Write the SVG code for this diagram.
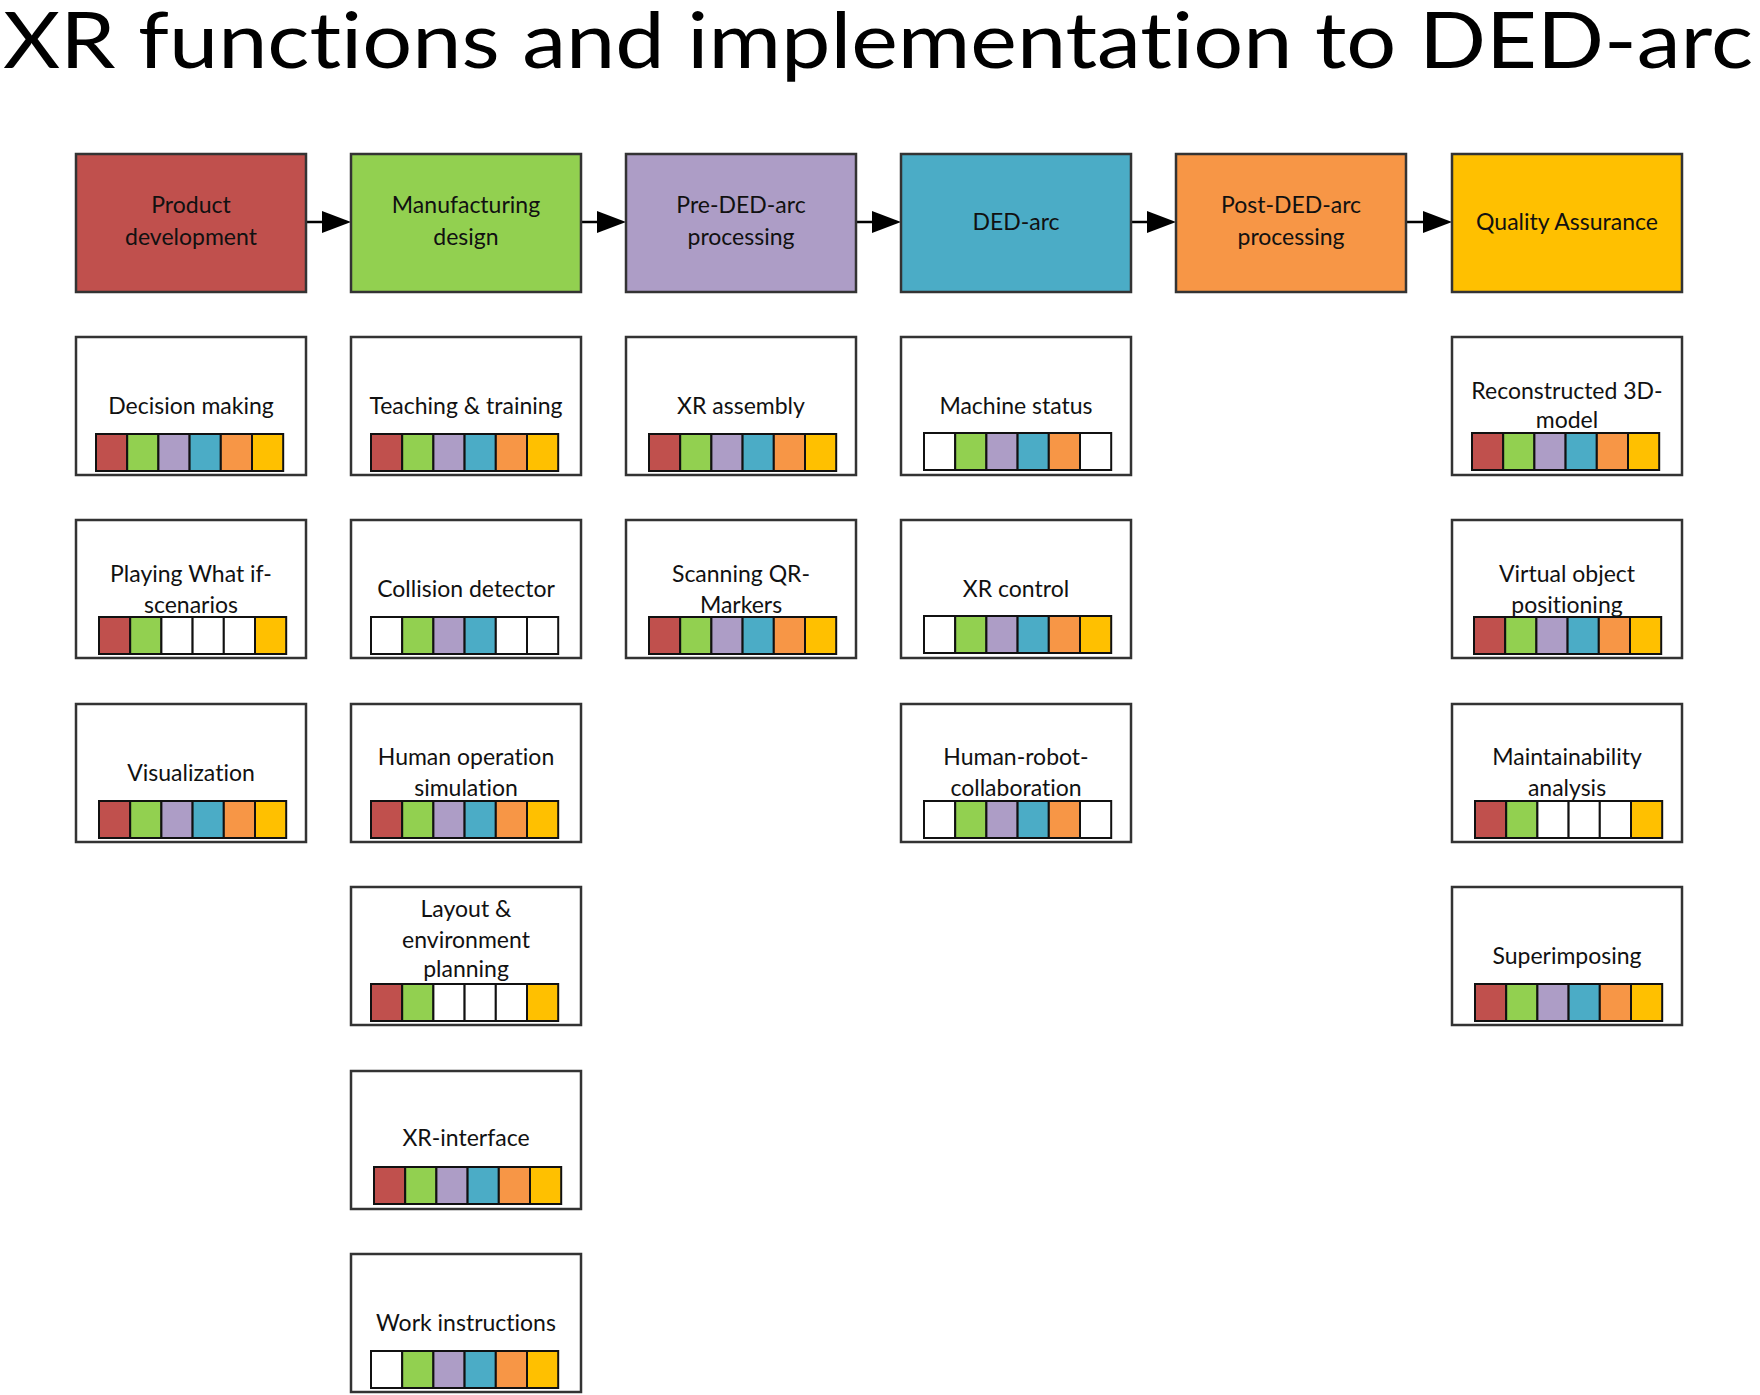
<svg xmlns="http://www.w3.org/2000/svg" width="1760" height="1395" viewBox="0 0 1760 1395">
<style>
.title{font-family:Lato,"Open Sans","Liberation Sans",sans-serif;font-size:78px;fill:#000;font-variant-ligatures:none}
.box{fill:#fff;stroke:#333;stroke-width:2.5}
.hdr{stroke:#333;stroke-width:2.5}
.lbl{font-family:Lato,"Open Sans","Liberation Sans",sans-serif;font-size:23px;fill:#111;text-anchor:middle;font-variant-ligatures:none}
.cell{stroke:#111;stroke-width:2}
.r{fill:#C0504D}.g{fill:#92D050}.p{fill:#AD9DC6}.b{fill:#4BACC6}.o{fill:#F79646}.y{fill:#FFC000}.w{fill:#fff}
.conn{stroke:#000;stroke-width:2.5;fill:none}
</style>
<defs>
<marker id="ah" viewBox="0 0 29 22" refX="0" refY="11" markerWidth="29" markerHeight="22" markerUnits="userSpaceOnUse" orient="auto">
<path d="M0,0 L29,11 L0,22 z" fill="#000"/>
</marker>
</defs>
<rect width="1760" height="1395" fill="#fff"/>
<text class="title" x="3" y="68" textLength="1750" lengthAdjust="spacingAndGlyphs">XR functions and implementation to DED-arc</text>

<g id="connectors">
<line class="conn" x1="306" y1="222" x2="322" y2="222" marker-end="url(#ah)"/>
<line class="conn" x1="581" y1="222" x2="597" y2="222" marker-end="url(#ah)"/>
<line class="conn" x1="856" y1="222" x2="872" y2="222" marker-end="url(#ah)"/>
<line class="conn" x1="1131" y1="222" x2="1147" y2="222" marker-end="url(#ah)"/>
<line class="conn" x1="1406" y1="222" x2="1423" y2="222" marker-end="url(#ah)"/>
</g>

<g id="h-product"><rect class="hdr r" x="76" y="154" width="230" height="138"/><text class="lbl" x="191" y="213">Product</text><text class="lbl" x="191" y="245">development</text></g>
<g id="h-manufacturing"><rect class="hdr g" x="351" y="154" width="230" height="138"/><text class="lbl" x="466" y="213">Manufacturing</text><text class="lbl" x="466" y="245">design</text></g>
<g id="h-pre"><rect class="hdr p" x="626" y="154" width="230" height="138"/><text class="lbl" x="741" y="213">Pre-DED-arc</text><text class="lbl" x="741" y="245">processing</text></g>
<g id="h-ded"><rect class="hdr b" x="901" y="154" width="230" height="138"/><text class="lbl" x="1016" y="230">DED-arc</text></g>
<g id="h-post"><rect class="hdr o" x="1176" y="154" width="230" height="138"/><text class="lbl" x="1291" y="213">Post-DED-arc</text><text class="lbl" x="1291" y="245">processing</text></g>
<g id="h-qa"><rect class="hdr y" x="1452" y="154" width="230" height="138"/><text class="lbl" x="1567" y="230">Quality Assurance</text></g>

<!-- Column 0 -->
<g id="n-decision"><rect class="box" x="76" y="337" width="230" height="138"/><text class="lbl" x="191" y="414">Decision making</text>
<g transform="translate(96,434)"><rect class="cell r" x="0" width="31.2" height="37"/><rect class="cell g" x="31.2" width="31.2" height="37"/><rect class="cell p" x="62.4" width="31.2" height="37"/><rect class="cell b" x="93.6" width="31.2" height="37"/><rect class="cell o" x="124.8" width="31.2" height="37"/><rect class="cell y" x="156" width="31.2" height="37"/></g></g>
<g id="n-whatif"><rect class="box" x="76" y="520" width="230" height="138"/><text class="lbl" x="191" y="582">Playing What if-</text><text class="lbl" x="191" y="613">scenarios</text>
<g transform="translate(99,617)"><rect class="cell r" x="0" width="31.2" height="37"/><rect class="cell g" x="31.2" width="31.2" height="37"/><rect class="cell w" x="62.4" width="31.2" height="37"/><rect class="cell w" x="93.6" width="31.2" height="37"/><rect class="cell w" x="124.8" width="31.2" height="37"/><rect class="cell y" x="156" width="31.2" height="37"/></g></g>
<g id="n-visualization"><rect class="box" x="76" y="704" width="230" height="138"/><text class="lbl" x="191" y="781">Visualization</text>
<g transform="translate(99,801)"><rect class="cell r" x="0" width="31.2" height="37"/><rect class="cell g" x="31.2" width="31.2" height="37"/><rect class="cell p" x="62.4" width="31.2" height="37"/><rect class="cell b" x="93.6" width="31.2" height="37"/><rect class="cell o" x="124.8" width="31.2" height="37"/><rect class="cell y" x="156" width="31.2" height="37"/></g></g>

<!-- Column 1 -->
<g id="n-teaching"><rect class="box" x="351" y="337" width="230" height="138"/><text class="lbl" x="466" y="414">Teaching &amp; training</text>
<g transform="translate(371,434)"><rect class="cell r" x="0" width="31.2" height="37"/><rect class="cell g" x="31.2" width="31.2" height="37"/><rect class="cell p" x="62.4" width="31.2" height="37"/><rect class="cell b" x="93.6" width="31.2" height="37"/><rect class="cell o" x="124.8" width="31.2" height="37"/><rect class="cell y" x="156" width="31.2" height="37"/></g></g>
<g id="n-collision"><rect class="box" x="351" y="520" width="230" height="138"/><text class="lbl" x="466" y="597">Collision detector</text>
<g transform="translate(371,617)"><rect class="cell w" x="0" width="31.2" height="37"/><rect class="cell g" x="31.2" width="31.2" height="37"/><rect class="cell p" x="62.4" width="31.2" height="37"/><rect class="cell b" x="93.6" width="31.2" height="37"/><rect class="cell w" x="124.8" width="31.2" height="37"/><rect class="cell w" x="156" width="31.2" height="37"/></g></g>
<g id="n-human-op"><rect class="box" x="351" y="704" width="230" height="138"/><text class="lbl" x="466" y="765">Human operation</text><text class="lbl" x="466" y="796">simulation</text>
<g transform="translate(371,801)"><rect class="cell r" x="0" width="31.2" height="37"/><rect class="cell g" x="31.2" width="31.2" height="37"/><rect class="cell p" x="62.4" width="31.2" height="37"/><rect class="cell b" x="93.6" width="31.2" height="37"/><rect class="cell o" x="124.8" width="31.2" height="37"/><rect class="cell y" x="156" width="31.2" height="37"/></g></g>
<g id="n-layout"><rect class="box" x="351" y="887" width="230" height="138"/><text class="lbl" x="466" y="917">Layout &amp;</text><text class="lbl" x="466" y="948">environment</text><text class="lbl" x="466" y="977">planning</text>
<g transform="translate(371,984)"><rect class="cell r" x="0" width="31.2" height="37"/><rect class="cell g" x="31.2" width="31.2" height="37"/><rect class="cell w" x="62.4" width="31.2" height="37"/><rect class="cell w" x="93.6" width="31.2" height="37"/><rect class="cell w" x="124.8" width="31.2" height="37"/><rect class="cell y" x="156" width="31.2" height="37"/></g></g>
<g id="n-xr-interface"><rect class="box" x="351" y="1071" width="230" height="138"/><text class="lbl" x="466" y="1146">XR-interface</text>
<g transform="translate(374,1167)"><rect class="cell r" x="0" width="31.2" height="37"/><rect class="cell g" x="31.2" width="31.2" height="37"/><rect class="cell p" x="62.4" width="31.2" height="37"/><rect class="cell b" x="93.6" width="31.2" height="37"/><rect class="cell o" x="124.8" width="31.2" height="37"/><rect class="cell y" x="156" width="31.2" height="37"/></g></g>
<g id="n-work"><rect class="box" x="351" y="1254" width="230" height="138"/><text class="lbl" x="466" y="1331">Work instructions</text>
<g transform="translate(371,1351)"><rect class="cell w" x="0" width="31.2" height="37"/><rect class="cell g" x="31.2" width="31.2" height="37"/><rect class="cell p" x="62.4" width="31.2" height="37"/><rect class="cell b" x="93.6" width="31.2" height="37"/><rect class="cell o" x="124.8" width="31.2" height="37"/><rect class="cell y" x="156" width="31.2" height="37"/></g></g>

<!-- Column 2 -->
<g id="n-xr-assembly"><rect class="box" x="626" y="337" width="230" height="138"/><text class="lbl" x="741" y="414">XR assembly</text>
<g transform="translate(649,434)"><rect class="cell r" x="0" width="31.2" height="37"/><rect class="cell g" x="31.2" width="31.2" height="37"/><rect class="cell p" x="62.4" width="31.2" height="37"/><rect class="cell b" x="93.6" width="31.2" height="37"/><rect class="cell o" x="124.8" width="31.2" height="37"/><rect class="cell y" x="156" width="31.2" height="37"/></g></g>
<g id="n-scanning"><rect class="box" x="626" y="520" width="230" height="138"/><text class="lbl" x="741" y="582">Scanning QR-</text><text class="lbl" x="741" y="613">Markers</text>
<g transform="translate(649,617)"><rect class="cell r" x="0" width="31.2" height="37"/><rect class="cell g" x="31.2" width="31.2" height="37"/><rect class="cell p" x="62.4" width="31.2" height="37"/><rect class="cell b" x="93.6" width="31.2" height="37"/><rect class="cell o" x="124.8" width="31.2" height="37"/><rect class="cell y" x="156" width="31.2" height="37"/></g></g>

<!-- Column 3 -->
<g id="n-machine"><rect class="box" x="901" y="337" width="230" height="138"/><text class="lbl" x="1016" y="414">Machine status</text>
<g transform="translate(924,433)"><rect class="cell w" x="0" width="31.2" height="37"/><rect class="cell g" x="31.2" width="31.2" height="37"/><rect class="cell p" x="62.4" width="31.2" height="37"/><rect class="cell b" x="93.6" width="31.2" height="37"/><rect class="cell o" x="124.8" width="31.2" height="37"/><rect class="cell w" x="156" width="31.2" height="37"/></g></g>
<g id="n-xr-control"><rect class="box" x="901" y="520" width="230" height="138"/><text class="lbl" x="1016" y="597">XR control</text>
<g transform="translate(924,616)"><rect class="cell w" x="0" width="31.2" height="37"/><rect class="cell g" x="31.2" width="31.2" height="37"/><rect class="cell p" x="62.4" width="31.2" height="37"/><rect class="cell b" x="93.6" width="31.2" height="37"/><rect class="cell o" x="124.8" width="31.2" height="37"/><rect class="cell y" x="156" width="31.2" height="37"/></g></g>
<g id="n-hrc"><rect class="box" x="901" y="704" width="230" height="138"/><text class="lbl" x="1016" y="765">Human-robot-</text><text class="lbl" x="1016" y="796">collaboration</text>
<g transform="translate(924,801)"><rect class="cell w" x="0" width="31.2" height="37"/><rect class="cell g" x="31.2" width="31.2" height="37"/><rect class="cell p" x="62.4" width="31.2" height="37"/><rect class="cell b" x="93.6" width="31.2" height="37"/><rect class="cell o" x="124.8" width="31.2" height="37"/><rect class="cell w" x="156" width="31.2" height="37"/></g></g>

<!-- Column 5 -->
<g id="n-reconstructed"><rect class="box" x="1452" y="337" width="230" height="138"/><text class="lbl" x="1567" y="399">Reconstructed 3D-</text><text class="lbl" x="1567" y="428">model</text>
<g transform="translate(1472,433)"><rect class="cell r" x="0" width="31.2" height="37"/><rect class="cell g" x="31.2" width="31.2" height="37"/><rect class="cell p" x="62.4" width="31.2" height="37"/><rect class="cell b" x="93.6" width="31.2" height="37"/><rect class="cell o" x="124.8" width="31.2" height="37"/><rect class="cell y" x="156" width="31.2" height="37"/></g></g>
<g id="n-virtual"><rect class="box" x="1452" y="520" width="230" height="138"/><text class="lbl" x="1567" y="582">Virtual object</text><text class="lbl" x="1567" y="613">positioning</text>
<g transform="translate(1474,617)"><rect class="cell r" x="0" width="31.2" height="37"/><rect class="cell g" x="31.2" width="31.2" height="37"/><rect class="cell p" x="62.4" width="31.2" height="37"/><rect class="cell b" x="93.6" width="31.2" height="37"/><rect class="cell o" x="124.8" width="31.2" height="37"/><rect class="cell y" x="156" width="31.2" height="37"/></g></g>
<g id="n-maintainability"><rect class="box" x="1452" y="704" width="230" height="138"/><text class="lbl" x="1567" y="765">Maintainability</text><text class="lbl" x="1567" y="796">analysis</text>
<g transform="translate(1475,801)"><rect class="cell r" x="0" width="31.2" height="37"/><rect class="cell g" x="31.2" width="31.2" height="37"/><rect class="cell w" x="62.4" width="31.2" height="37"/><rect class="cell w" x="93.6" width="31.2" height="37"/><rect class="cell w" x="124.8" width="31.2" height="37"/><rect class="cell y" x="156" width="31.2" height="37"/></g></g>
<g id="n-superimposing"><rect class="box" x="1452" y="887" width="230" height="138"/><text class="lbl" x="1567" y="964">Superimposing</text>
<g transform="translate(1475,984)"><rect class="cell r" x="0" width="31.2" height="37"/><rect class="cell g" x="31.2" width="31.2" height="37"/><rect class="cell p" x="62.4" width="31.2" height="37"/><rect class="cell b" x="93.6" width="31.2" height="37"/><rect class="cell o" x="124.8" width="31.2" height="37"/><rect class="cell y" x="156" width="31.2" height="37"/></g></g>
</svg>
